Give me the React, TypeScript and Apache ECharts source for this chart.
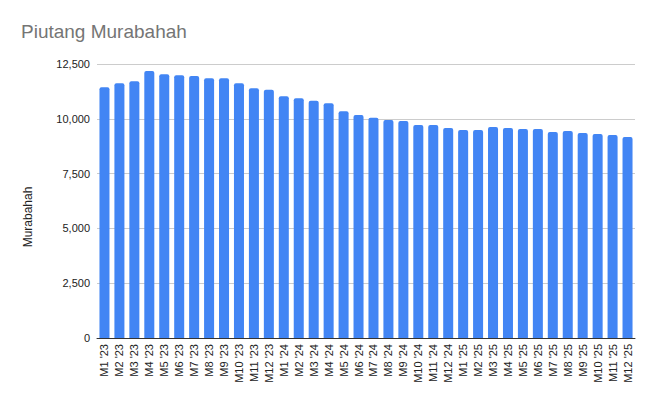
import React, { useEffect, useRef } from "react";
import * as echarts from "echarts";

const categories = [
  "M1 '23", "M2 '23", "M3 '23", "M4 '23", "M5 '23", "M6 '23", "M7 '23", "M8 '23", "M9 '23", "M10 '23", "M11 '23", "M12 '23",
  "M1 '24", "M2 '24", "M3 '24", "M4 '24", "M5 '24", "M6 '24", "M7 '24", "M8 '24", "M9 '24", "M10 '24", "M11 '24", "M12 '24",
  "M1 '25", "M2 '25", "M3 '25", "M4 '25", "M5 '25", "M6 '25", "M7 '25", "M8 '25", "M9 '25", "M10 '25", "M11 '25", "M12 '25",
];

const murabahah = [
  11440, 11620, 11710, 12180, 12030, 11985, 11955, 11850, 11850, 11620, 11395, 11320,
  11030, 10940, 10820, 10710, 10350, 10170, 10045, 9940, 9895, 9715, 9715, 9580,
  9485, 9485, 9625, 9580, 9530, 9530, 9395, 9440, 9350, 9305, 9260, 9170,
];

const yTicks = { min: 0, max: 12500, interval: 2500 };

export default function App() {
  const ref = useRef<HTMLDivElement>(null);
  useEffect(() => {
    if (!ref.current) return;
    const chart = echarts.init(ref.current, undefined, { renderer: "svg" });
    chart.setOption({
      animation: false,
      backgroundColor: "#ffffff",
      textStyle: { fontFamily: "Liberation Sans, Arial, sans-serif" },
      title: {
        text: "Piutang Murabahah",
        left: 16,
        top: 17,
        textStyle: { fontSize: 19, fontWeight: "normal", color: "#757575", fontFamily: "Liberation Sans, Arial, sans-serif" },
      },
      grid: { left: 97, right: 22, top: 64, bottom: 69 },
      xAxis: {
        type: "category",
        data: categories,
        axisTick: { show: false },
        axisLine: { lineStyle: { color: "#333333", width: 1 } },
        axisLabel: {
          rotate: 90,
          interval: 0,
          fontSize: 11,
          color: "#222222",
          margin: 6,
          fontFamily: "Liberation Sans, Arial, sans-serif",
        },
      },
      yAxis: {
        type: "value",
        min: yTicks.min,
        max: yTicks.max,
        interval: yTicks.interval,
        axisLine: { show: false },
        axisTick: { show: false },
        splitLine: { lineStyle: { color: "#cccccc", width: 1 } },
        axisLabel: {
          fontSize: 11,
          color: "#222222",
          margin: 7,
          fontFamily: "Liberation Sans, Arial, sans-serif",
          formatter: (v: number) => v.toLocaleString("en-US"),
        },
      },
      graphic: [
        {
          type: "text",
          x: 28,
          y: 217,
          rotation: Math.PI / 2,
          style: {
            text: "Murabahah",
            fontSize: 12,
            fill: "#222222",
            fontFamily: "Liberation Sans, Arial, sans-serif",
            align: "center",
            verticalAlign: "middle",
          },
        },
      ],
      series: [
        {
          type: "bar",
          data: murabahah,
          barCategoryGap: "33%",
          itemStyle: { color: "#4285F4", borderRadius: [2, 2, 0, 0] },
        },
      ],
    });
    return () => chart.dispose();
  }, []);
  return <div ref={ref} style={{ width: 657, height: 407, position: "absolute", left: 0, top: 0 }} />;
}
